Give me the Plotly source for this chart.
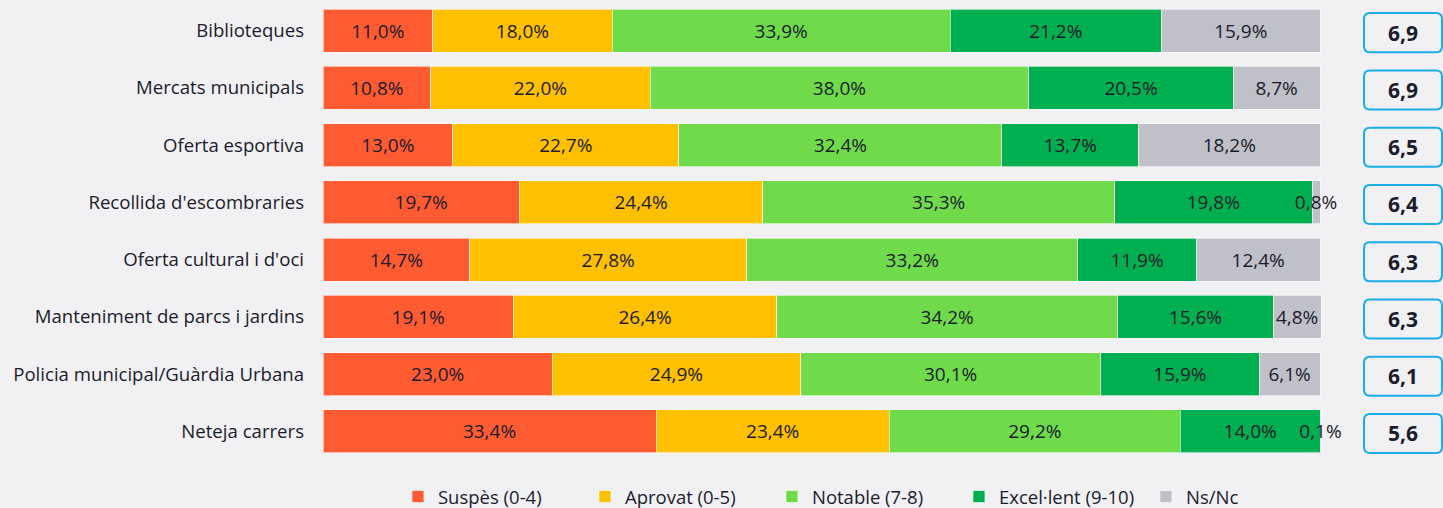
import plotly.graph_objects as go

categories = ["Biblioteques", "Mercats municipals", "Oferta esportiva",
              "Recollida d'escombraries", "Oferta cultural i d'oci",
              "Manteniment de parcs i jardins", "Policia municipal/Guàrdia Urbana",
              "Neteja carrers"]
series_names = ["Suspès (0-4)", "Aprovat (0-5)", "Notable (7-8)", "Excel·lent (9-10)", "Ns/Nc"]
suspes = [11.0, 10.8, 13.0, 19.7, 14.7, 19.1, 23.0, 33.4]
aprovat = [18.0, 22.0, 22.7, 24.4, 27.8, 26.4, 24.9, 23.4]
notable = [33.9, 38.0, 32.4, 35.3, 33.2, 34.2, 30.1, 29.2]
excelent = [21.2, 20.5, 13.7, 19.8, 11.9, 15.6, 15.9, 14.0]
nsnc = [15.9, 8.7, 18.2, 0.8, 12.4, 4.8, 6.1, 0.1]
scores = ["6,9", "6,9", "6,5", "6,4", "6,3", "6,3", "6,1", "5,6"]

colors = ["#FF5B33", "#FFC000", "#6FDB4B", "#00B050", "#C0C0C8"]
BG = "#F1F1F4"
TXT = "#1B1B2B"
FONT = "Open Sans"

W, H = 1443, 508
ML, MR, MT, MB = 323, 121, 2, 48

fig = go.Figure()
for name, vals, col in zip(series_names, [suspes, aprovat, notable, excelent, nsnc], colors):
    fig.add_trace(go.Bar(
        y=categories, x=vals, name=name, orientation="h",
        marker=dict(color=col, line=dict(color="rgba(255,255,255,0.6)", width=1)),
        texttemplate="%{x:.1f}%", textposition="inside", insidetextanchor="middle",
        textangle=0, constraintext="none", cliponaxis=False,
        textfont=dict(family=FONT, size=19, color=TXT),
        hoverinfo="skip",
    ))

# score boxes (rounded rectangles) to the right of each bar
plot_w = W - ML - MR
n = len(categories)
row_px = (H - MT - MB) / n
bx0 = (1364 - ML) / plot_w
bx1 = (1442 - ML) / plot_w
rx = 6 / plot_w
ry = 6 / row_px
half_h = 19.5 / row_px
yoff = 2 / row_px
for i, (cat, s) in enumerate(zip(categories, scores)):
    y0 = i - half_h + yoff
    y1 = i + half_h + yoff
    path = (f"M {bx0+rx},{y0} L {bx1-rx},{y0} Q {bx1},{y0} {bx1},{y0+ry} "
            f"L {bx1},{y1-ry} Q {bx1},{y1} {bx1-rx},{y1} L {bx0+rx},{y1} "
            f"Q {bx0},{y1} {bx0},{y1-ry} L {bx0},{y0+ry} Q {bx0},{y0} {bx0+rx},{y0} Z")
    fig.add_shape(type="path", path=path, xref="paper", yref="y",
                  line=dict(color="#19AEE8", width=2), fillcolor=BG, layer="above")
    fig.add_annotation(
        x=(bx0 + bx1) / 2, xref="paper", xanchor="center",
        y=i + yoff, yref="y", yanchor="middle", text="<b>" + s + "</b>",
        showarrow=False, font=dict(family=FONT, size=21, color=TXT),
    )

fig.update_layout(
    barmode="stack", bargap=0.25,
    width=W, height=H,
    margin=dict(l=ML, r=MR, t=MT, b=MB, autoexpand=False),
    paper_bgcolor=BG, plot_bgcolor=BG,
    separators=",.",
    font=dict(family=FONT, size=18, color=TXT),
    showlegend=True,
    legend=dict(orientation="h", x=0.543, xanchor="center",
                yref="container", y=11 / H, yanchor="middle",
                font=dict(family=FONT, size=18.5, color=TXT), entrywidth=142,
                traceorder="normal", bgcolor="rgba(0,0,0,0)", itemwidth=30),
    xaxis=dict(range=[0, 100.2], visible=False, fixedrange=True),
    yaxis=dict(autorange="reversed", showgrid=False, ticks="", ticklabelstandoff=18,
               tickfont=dict(family=FONT, size=18.6, color=TXT), showline=False,
               zeroline=False, fixedrange=True),
)

fig.write_html("out.html", config={"displayModeBar": False},
               post_script="document.body.style.margin='0';document.body.style.background='%s';" % BG)
